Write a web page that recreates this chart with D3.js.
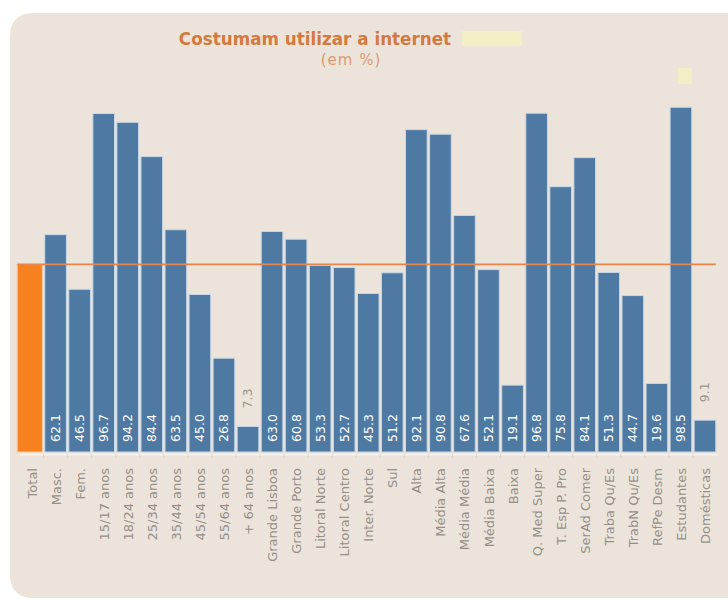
<!DOCTYPE html>
<html>
<head>
<meta charset="utf-8">
<script src="https://cdn.jsdelivr.net/npm/d3@7/dist/d3.min.js"></script>
<style>
  html, body { margin: 0; padding: 0; background: #ffffff; }
  svg { display: block; }
</style>
</head>
<body>
<svg id="chart" width="728" height="599"></svg>
<script>
// Categories shown along the bottom axis
const categories = [
  "Total", "Masc.", "Fem.",
  "15/17 anos", "18/24 anos", "25/34 anos", "35/44 anos", "45/54 anos", "55/64 anos", "+ 64 anos",
  "Grande Lisboa", "Grande Porto", "Litoral Norte", "Litoral Centro", "Inter. Norte", "Sul",
  "Alta", "Média Alta", "Média Média", "Média Baixa", "Baixa",
  "Q. Med Super", "T. Esp P. Pro", "SerAd Comer", "Traba Qu/Es", "TrabN Qu/Es", "RefPe Desm",
  "Estudantes", "Domésticas"
];

// Share (%) that usually uses the internet, per category
const values = [
  53.6, 62.1, 46.5,
  96.7, 94.2, 84.4, 63.5, 45.0, 26.8, 7.3,
  63.0, 60.8, 53.3, 52.7, 45.3, 51.2,
  92.1, 90.8, 67.6, 52.1, 19.1,
  96.8, 75.8, 84.1, 51.3, 44.7, 19.6,
  98.5, 9.1
];

const totalValue = values[0];
const title = "Costumam utilizar a internet";
const subtitle = "(em %)";

const data = categories.map((c, i) => ({ cat: c, value: values[i], total: i === 0 }));

const svg = d3.select("#chart");
const font = "'DejaVu Sans', Verdana, sans-serif";

// Beige panel with rounded left corners
svg.append("path")
  .attr("d", (() => {
    const x0 = 10, y0 = 13, x1 = 740, y1 = 598, r = 24;
    return `M${x0 + r},${y0} L${x1},${y0} L${x1},${y1} L${x0 + r},${y1} ` +
           `Q${x0},${y1} ${x0},${y1 - r} L${x0},${y0 + r} Q${x0},${y0} ${x0 + r},${y0} Z`;
  })())
  .attr("fill", "#ece4da");

// Scales
const x = d3.scaleBand()
  .domain(categories)
  .range([19.5, 717])
  .paddingInner(0.1)
  .paddingOuter(0.05);

const y = d3.scaleLinear()
  .domain([0, 100])
  .range([452, 102]);

// The highlighted total bar is drawn a little wider on its left side
const totalExtra = 3.5;

// Baseline axis with small separators
const axis = d3.axisBottom(x).tickSize(0).tickFormat("");
const gAxis = svg.append("g").attr("transform", `translate(0,${y(0) + 2})`).call(axis);
gAxis.select(".domain").attr("stroke", "#f7f2ea").attr("stroke-width", 2);

svg.append("g")
  .selectAll("line")
  .data(categories.slice(1))
  .join("line")
  .attr("x1", d => x(d) - x.step() * x.paddingInner() / 2)
  .attr("x2", d => x(d) - x.step() * x.paddingInner() / 2)
  .attr("y1", y(0) + 2)
  .attr("y2", y(0) + 6)
  .attr("stroke", "#d9d2c8")
  .attr("stroke-width", 1);

// Bars
svg.append("g")
  .selectAll("rect")
  .data(data)
  .join("rect")
  .attr("x", d => x(d.cat) - (d.total ? totalExtra : 0))
  .attr("width", d => x.bandwidth() + (d.total ? totalExtra : 0))
  .attr("y", d => y(d.value))
  .attr("height", d => y(0) - y(d.value))
  .attr("fill", d => d.total ? "#f7801f" : "#4e79a3")
  .attr("stroke", d => d.total ? "#f6c9a0" : "#c6d8e8")
  .attr("stroke-width", 1);

// Reference line at the overall total
svg.append("line")
  .attr("x1", x(categories[0]) - totalExtra)
  .attr("x2", x(categories[categories.length - 1]) + x.bandwidth())
  .attr("y1", y(totalValue))
  .attr("y2", y(totalValue))
  .attr("stroke", "#e8854a")
  .attr("stroke-width", 1.6);

// Value labels (inside the bar at its foot, or above short bars)
const labelled = data.filter(d => !d.total);
svg.append("g")
  .selectAll("text")
  .data(labelled)
  .join("text")
  .attr("transform", d => {
    const cx = x(d.cat) + x.bandwidth() / 2 + 4.5;
    const yy = d.value < 15 ? y(d.value) - 18 : y(0) - 10;
    return `translate(${cx},${yy}) rotate(-90)`;
  })
  .attr("text-anchor", "start")
  .attr("font-family", font)
  .attr("font-size", 12.5)
  .attr("fill", d => d.value < 15 ? "#9a9690" : "#ffffff")
  .text(d => d.value.toFixed(1));

// Category labels
svg.append("g")
  .selectAll("text")
  .data(categories)
  .join("text")
  .attr("transform", d => `translate(${x(d) + x.bandwidth() / 2 + 5},${y(0) + 16}) rotate(-90)`)
  .attr("text-anchor", "end")
  .attr("font-family", font)
  .attr("font-size", 13)
  .attr("fill", "#948f89")
  .text(d => d);

// Title block
svg.append("text")
  .attr("x", 315)
  .attr("y", 45)
  .attr("text-anchor", "middle")
  .attr("font-family", font)
  .attr("font-weight", "bold")
  .attr("font-size", 16.8)
  .attr("fill", "#d47a40")
  .text(title);

svg.append("rect")
  .attr("x", 462).attr("y", 31).attr("width", 60).attr("height", 15)
  .attr("fill", "#f4eec6");

svg.append("text")
  .attr("x", 351)
  .attr("y", 65)
  .attr("text-anchor", "middle")
  .attr("font-family", font)
  .attr("font-size", 15)
  .attr("letter-spacing", 1)
  .attr("fill", "#de9a72")
  .text(subtitle);

svg.append("rect")
  .attr("x", 678).attr("y", 68).attr("width", 14).attr("height", 16)
  .attr("fill", "#f4eec6");
</script>
</body>
</html>
